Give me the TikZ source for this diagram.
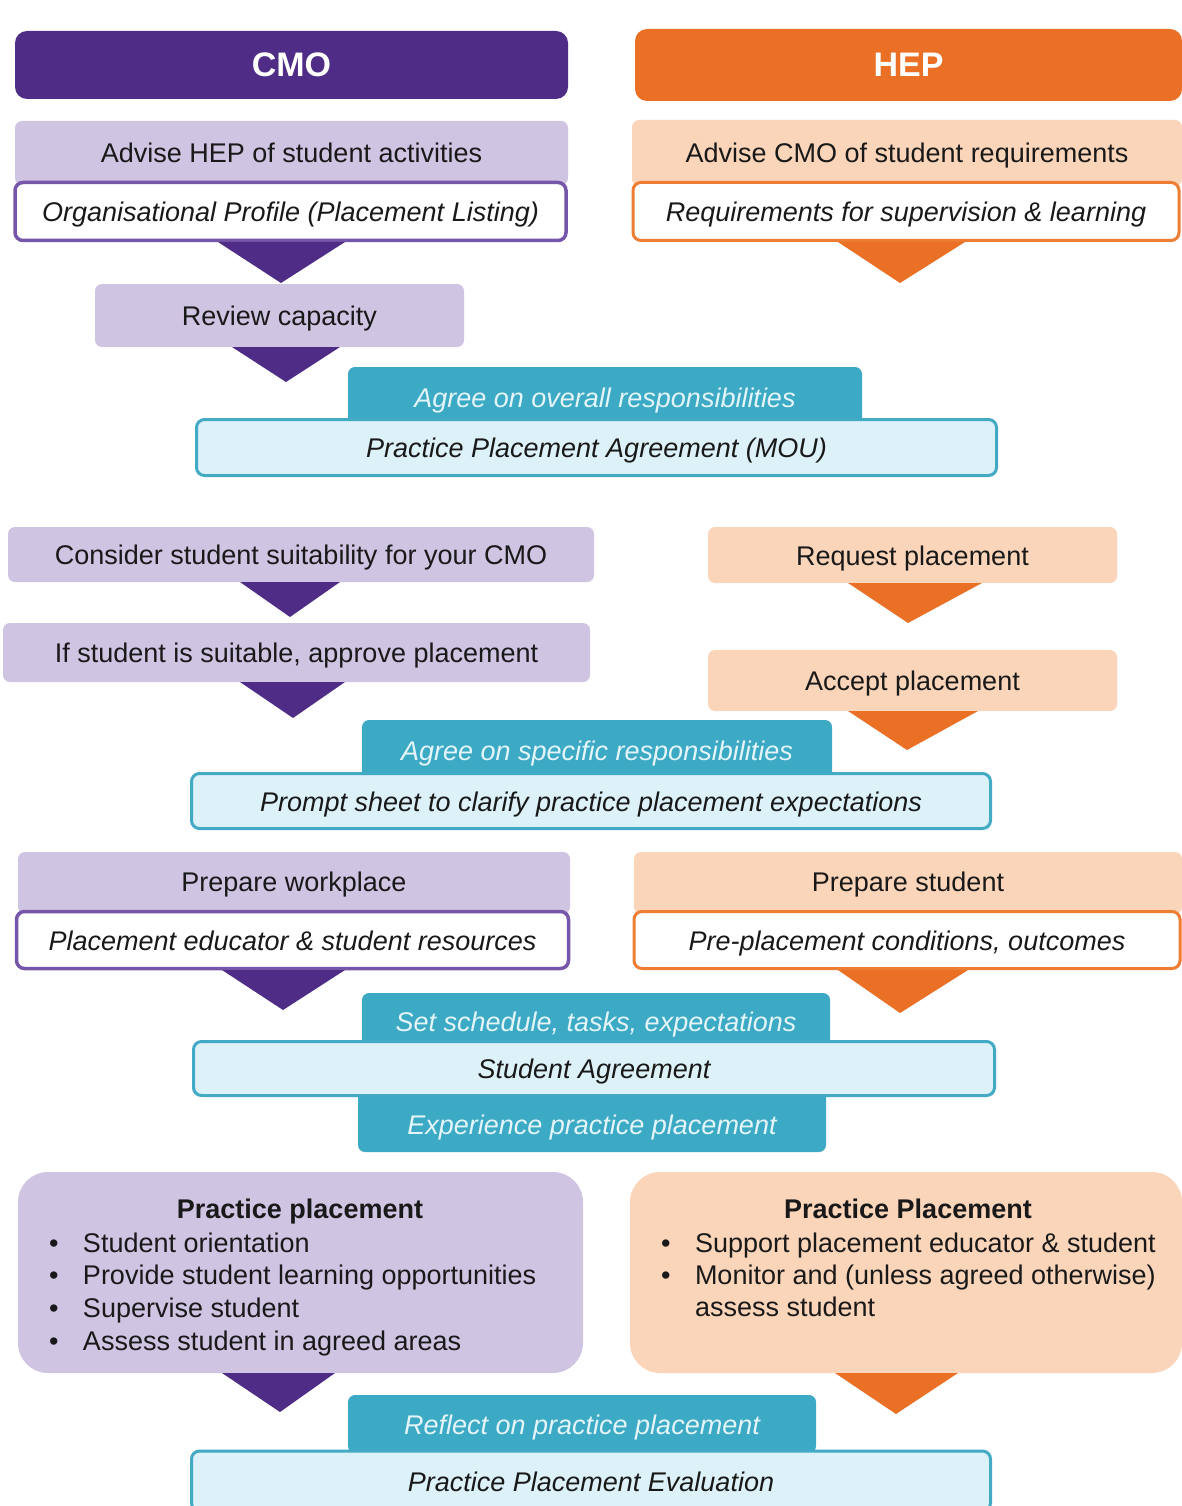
\documentclass[tikz,border=0pt]{standalone}
\usepackage{fontspec}
\setmainfont{Liberation Sans}
\definecolor{cmodark}{RGB}{79,45,134}
\definecolor{cmolight}{RGB}{208,196,227}
\definecolor{cmoline}{RGB}{118,86,168}
\definecolor{hepdark}{RGB}{234,112,38}
\definecolor{heplight}{RGB}{251,213,186}
\definecolor{hepline}{RGB}{237,125,50}
\definecolor{tealtab}{RGB}{60,169,197}
\definecolor{tealline}{RGB}{66,170,196}
\definecolor{bluefill}{RGB}{221,241,248}
\definecolor{tabtext}{RGB}{228,245,249}
\definecolor{ink}{RGB}{25,25,25}
\newcommand{\blt}{\makebox[34pt][l]{\textbullet}}
\tikzset{
 every node/.style={inner sep=0pt, outer sep=0pt},
 txt/.style={font=\fontsize{27}{33}\selectfont, text=ink, text height=21.5pt, text depth=1.5pt},
 itxt/.style={txt, font=\fontsize{27}{33}\selectfont\itshape},
 btxt/.style={txt, font=\fontsize{27}{33}\selectfont\bfseries},
 head/.style={rounded corners=12pt, text=white, font=\fontsize{34}{40}\selectfont\bfseries},
 cmohead/.style={head, fill=cmodark},
 hephead/.style={head, fill=hepdark},
 cmostep/.style={txt, fill=cmolight, rounded corners=7pt},
 hepstep/.style={txt, fill=heplight, rounded corners=7pt},
 cmodoc/.style={itxt, fill=white, draw=cmoline, line width=3.5pt, rounded corners=8pt},
 hepdoc/.style={itxt, fill=white, draw=hepline, line width=3pt, rounded corners=8pt},
 tabbox/.style={itxt, fill=tealtab, text=tabtext, rounded corners=7pt},
 agreebox/.style={itxt, fill=bluefill, draw=tealline, line width=3pt, rounded corners=8pt},
 bigcmo/.style={fill=cmolight, rounded corners=30pt},
 bighep/.style={fill=heplight, rounded corners=30pt},
 cmoarrow/.style={fill=cmodark},
 heparrow/.style={fill=hepdark},
 wh/.style 2 args={minimum width=#1pt, minimum height=#2pt},
}
\begin{document}
\begin{tikzpicture}[x=1pt,y=-1pt]
\useasboundingbox (0,0) rectangle (1182,1506);
\fill[white] (0,0) rectangle (1182,1506);

% headers
\node[cmohead, wh={553}{68}] (cmo) at (291.5,65) {CMO};
\node[hephead, wh={547}{72}] (hep) at (908.5,65) {HEP};

% row 1
\node[cmostep, wh={553}{64}] (advhep) at (291.5,153) {Advise HEP of student activities};
\node[cmodoc, wh={551}{58}] (orgprof) at (290.5,211.5) {Organisational Profile (Placement Listing)};
\node[hepstep, wh={550}{66}] (advcmo) at (907,153) {Advise CMO of student requirements};
\node[hepdoc, wh={546}{58}] (reqs) at (906,211.5) {Requirements for supervision \& learning};
\fill[cmoarrow] (218,242) -- (345,242) -- (281,283) -- cycle;
\fill[heparrow] (838,242) -- (965,242) -- (900,283) -- cycle;

\node[cmostep, wh={369}{63}] (review) at (279.5,315.5) {Review capacity};
\fill[cmoarrow] (232,347) -- (340,347) -- (286,382) -- cycle;

\node[tabbox, wh={514}{60}] (tabone) at (605,397) {Agree on overall responsibilities};
\node[agreebox, wh={800}{56}] (mou) at (596.5,447.5) {Practice Placement Agreement (MOU)};

% row 2
\node[cmostep, wh={586}{55}] (consider) at (301,554.5) {Consider student suitability for your CMO};
\fill[cmoarrow] (240,582) -- (340,582) -- (290,617) -- cycle;
\node[cmostep, wh={587}{59}] (suitable) at (296.5,652.5) {If student is suitable, approve placement};
\fill[cmoarrow] (240,682) -- (345,682) -- (293,718) -- cycle;

\node[hepstep, wh={409}{56}] (request) at (912.5,555) {Request placement};
\fill[heparrow] (848,583) -- (982,583) -- (908,623) -- cycle;
\node[hepstep, wh={409}{61}] (accept) at (912.5,680.5) {Accept placement};
\fill[heparrow] (848,711) -- (978,711) -- (907,750) -- cycle;

\node[tabbox, wh={470}{60}] (tabtwo) at (597,750) {Agree on specific responsibilities};
\node[agreebox, wh={799}{55}] (prompt) at (591,801) {Prompt sheet to clarify practice placement expectations};

% row 3
\node[cmostep, wh={552}{62}] (prepwork) at (294,883) {\raisebox{2pt}{Prepare workplace}};
\node[cmodoc, wh={552}{57}] (resources) at (292.5,940) {Placement educator \& student resources};
\fill[cmoarrow] (222,970) -- (345,970) -- (283,1010) -- cycle;

\node[hepstep, wh={548}{62}] (prepstud) at (908,883) {\raisebox{2pt}{Prepare student}};
\node[hepdoc, wh={546}{57}] (conditions) at (907,940) {Pre-placement conditions, outcomes};
\fill[heparrow] (838,970) -- (968,970) -- (900,1013) -- cycle;

\node[tabbox, wh={468}{56}] (tabthree) at (596,1021) {Set schedule, tasks, expectations};
\node[tabbox, wh={468}{66}] (tabfour) at (592,1119) {\raisebox{-5pt}{Experience practice placement}};
\node[agreebox, wh={801}{54}] (sa) at (594,1068.5) {Student Agreement};

% row 4
\node[bigcmo, wh={565}{201}] (ppcmo) at (300.5,1272.5) {};
\node[btxt] (ppcmotitle) at (300,1208) {Practice placement};
\node[txt, anchor=west] (ci1) at (49,1242) {\blt Student orientation};
\node[txt, anchor=west] (ci2) at (49,1274) {\blt Provide student learning opportunities};
\node[txt, anchor=west] (ci3) at (49,1307) {\blt Supervise student};
\node[txt, anchor=west] (ci4) at (49,1340) {\blt Assess student in agreed areas};

\node[bighep, wh={552}{201}] (pphep) at (906,1272.5) {};
\node[btxt] (pheptitle) at (908,1208) {Practice Placement};
\node[txt, anchor=west] (hi1) at (661,1242) {\blt Support placement educator \& student};
\node[txt, anchor=west] (hi2) at (661,1274) {\blt Monitor and (unless agreed otherwise)};
\node[txt, anchor=west] (hi3) at (695,1306) {assess student};

\fill[cmoarrow] (222,1373) -- (335,1373) -- (280,1412) -- cycle;
\fill[heparrow] (835,1373) -- (958,1373) -- (896,1414) -- cycle;

\node[tabbox, wh={468}{58}] (tabfive) at (582,1424) {Reflect on practice placement};
\node[agreebox, wh={799}{60}] (eval) at (591,1481) {Practice Placement Evaluation};
\end{tikzpicture}
\end{document}
